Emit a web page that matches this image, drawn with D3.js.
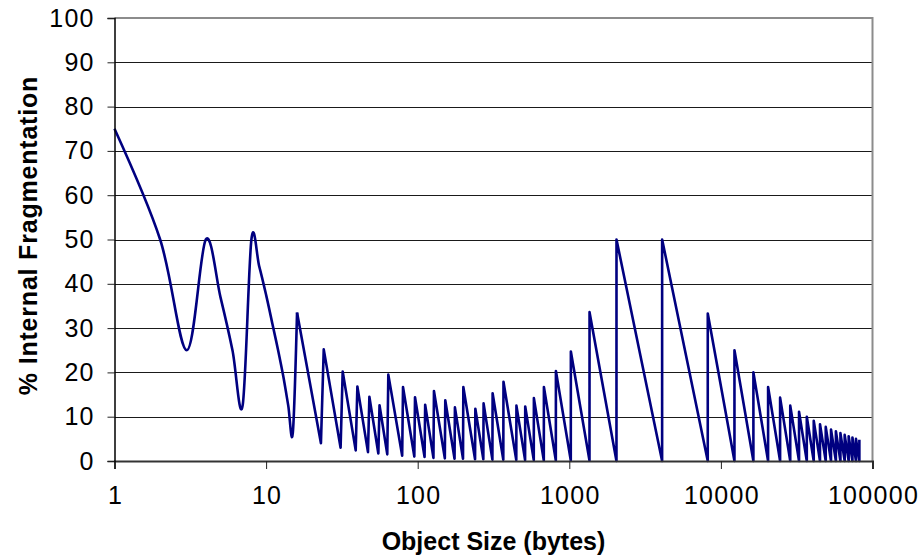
<!DOCTYPE html>
<html>
<head>
<meta charset="utf-8">
<script src="https://cdn.jsdelivr.net/npm/d3@7"></script>
<style>
  body { margin: 0; background: #fff; }
  text { font-family: "Liberation Sans", Arial, sans-serif; }
</style>
</head>
<body>
<script>
var w = 920;
var h = 559;

// small sizes, drawn as a smoothed curve
var smallSizes = [1, 2, 3, 4, 5, 6, 7, 8, 9, 10, 11, 12, 13, 14, 15, 16];
var smallFrag = [75, 50, 25, 50, 37, 25, 12.5, 50, 44, 37.5, 31, 25, 19, 12.5, 6.3, 33.5];

// sawtooth: each tooth starts at a size class and drops to its end
var toothStart = [16, 24, 32, 40, 48, 56, 64, 80, 96, 112,
  128, 152, 176, 200, 240, 272, 312, 368, 448, 512,
  584, 680, 816, 1024, 1360, 2048, 4096, 8192, 12288, 16384,
  20480, 24576, 28672, 32768, 36864, 40960, 45056, 49152, 53248, 57344,
  61440, 65536, 69632, 73728, 77824, 81920];
var toothPeak = [33.5, 25.2, 20.2, 16.8, 14.5, 12.6, 19.5, 16.7, 14.4, 12.7,
  15.8, 13.7, 12.1, 16.7, 11.8, 13.0, 15.3, 17.9, 12.5, 12.3,
  14.2, 16.7, 20.3, 24.7, 33.6, 50, 50, 33.3, 25, 20,
  16.7, 14.3, 12.5, 11.1, 10, 9.1, 8.3, 7.7, 7.1, 6.7,
  6.3, 5.9, 5.6, 5.3, 5.0, 4.8];
var toothEnd = [23, 31, 39, 47, 55, 63, 79, 95, 111, 127,
  151, 175, 199, 239, 271, 311, 367, 447, 511, 583,
  679, 815, 1023, 1359, 2047, 4095, 8191, 12287, 16383, 20479,
  24575, 28671, 32767, 36863, 40959, 45055, 49151, 53247, 57343, 61439,
  65535, 69631, 73727, 77823, 81919, 81920];
var toothLow = [4.0, 3.0, 2.4, 2.0, 1.7, 1.5, 1.2, 1.0, 0.9, 0.7,
  0.6, 0.5, 0.5, 0.4, 0.4, 0.3, 0.3, 0.2, 0.2, 0.2,
  0.1, 0.1, 0.1, 0.1, 0, 0, 0, 0, 0, 0,
  0, 0, 0, 0, 0, 0, 0, 0, 0, 0,
  0, 0, 0, 0, 0, 4.8];

var xTicks = [1, 10, 100, 1000, 10000, 100000];
var yTicks = [0, 10, 20, 30, 40, 50, 60, 70, 80, 90, 100];

var plotLeft = 114.5, plotRight = 872.5, plotTop = 18, plotBottom = 461;

var xScale = d3.scaleLog().domain([1, 100000]).range([plotLeft, plotRight]);
var yScale = d3.scaleLinear().domain([0, 100]).range([plotBottom, plotTop]);

var svg = d3.select("body").append("svg").attr("width", w).attr("height", h);

// gridlines
svg.append("g")
  .selectAll("line")
  .data(yTicks.filter(function (d) { return d > 0 && d < 100; }))
  .enter()
  .append("line")
  .attr("x1", plotLeft)
  .attr("x2", plotRight)
  .attr("y1", function (d) { return Math.round(yScale(d)) + 0.5; })
  .attr("y2", function (d) { return Math.round(yScale(d)) + 0.5; })
  .attr("stroke", "#1a1a1a")
  .attr("stroke-width", 1.2);

// plot frame (top + right)
svg.append("path")
  .attr("d", `M${plotLeft},${plotTop}H${plotRight}V${plotBottom}`)
  .attr("fill", "none")
  .attr("stroke", "#8c8c8c")
  .attr("stroke-width", 2);

// data
var smallPts = smallSizes.map(function (s, i) { return [s, smallFrag[i]]; });
var toothPts = [];
toothStart.forEach(function (s, i) {
  toothPts.push([s, toothPeak[i]]);
  toothPts.push([toothEnd[i], toothLow[i]]);
});

var smooth = d3.line()
  .x(function (d) { return xScale(d[0]); })
  .y(function (d) { return yScale(d[1]); })
  .curve(d3.curveCatmullRom.alpha(0));
var straight = d3.line()
  .x(function (d) { return xScale(d[0]); })
  .y(function (d) { return yScale(d[1]); });

svg.append("path")
  .attr("d", smooth(smallPts))
  .attr("fill", "none")
  .attr("stroke", "#000080")
  .attr("stroke-width", 2.6)
  .attr("stroke-linejoin", "round");

svg.append("path")
  .attr("d", straight(toothPts))
  .attr("fill", "none")
  .attr("stroke", "#000080")
  .attr("stroke-width", 2.6)
  .attr("stroke-linejoin", "round");

// axes
var xAxis = d3.axisBottom(xScale)
  .tickValues(xTicks)
  .tickFormat(d3.format("d"))
  .tickSize(8)
  .tickPadding(17);
var yAxis = d3.axisLeft(yScale)
  .tickValues(yTicks)
  .tickFormat(d3.format("d"))
  .tickSize(7)
  .tickPadding(14);

var gx = svg.append("g")
  .attr("transform", `translate(0,${plotBottom})`)
  .call(xAxis);
gx.select(".domain").attr("stroke", "#333").attr("stroke-width", 2);
gx.selectAll(".tick line").attr("stroke", "#222");
gx.selectAll(".tick text")
  .attr("fill", "#000")
  .attr("dx", "0.5px")
  .style("font-size", "25px")
  .style("letter-spacing", "1.3px")
  .style("font-family", "'Liberation Sans', Arial, sans-serif");

var gy = svg.append("g")
  .attr("transform", `translate(${plotLeft},0)`)
  .call(yAxis);
gy.select(".domain").attr("stroke", "#000").attr("stroke-width", 1.5);
gy.selectAll(".tick line").attr("stroke", "#222");
gy.selectAll(".tick text")
  .attr("fill", "#000")
  .attr("dx", "1.3px")
  .style("font-size", "25px")
  .style("letter-spacing", "1.3px")
  .style("font-family", "'Liberation Sans', Arial, sans-serif");

// axis titles
svg.append("text")
  .attr("x", (plotLeft + plotRight) / 2)
  .attr("y", 550)
  .attr("text-anchor", "middle")
  .style("font-size", "25px")
  .style("font-weight", "bold")
  .text("Object Size (bytes)");

svg.append("text")
  .attr("transform", `translate(37,${(plotTop + plotBottom) / 2 - 4}) rotate(-90)`)
  .attr("text-anchor", "middle")
  .style("font-size", "25px")
  .style("font-weight", "bold")
  .style("letter-spacing", "0.8px")
  .text("% Internal Fragmentation");
</script>
</body>
</html>
